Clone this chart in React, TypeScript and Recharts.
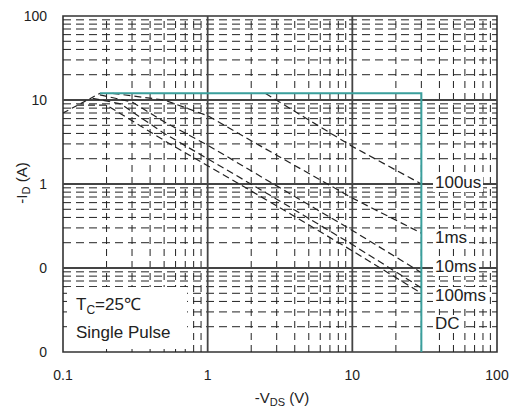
import React from 'react';
import {
  LineChart,
  Line,
  XAxis,
  YAxis,
  ReferenceLine,
  ReferenceArea,
  Label,
} from 'recharts';

// -VDS (V) axis
const xTicks = [0.1, 1, 10, 100];
const xMinor = [
  0.2, 0.3, 0.4, 0.5, 0.6, 0.7, 0.8, 0.9,
  2, 3, 4, 5, 6, 7, 8, 9,
  20, 30, 40, 50, 60, 70, 80, 90,
];

// -ID (A) axis (the datasheet prints 0.1 and 0.01 as "0")
const yTicks = [0.01, 0.1, 1, 10, 100];
const yTickText = ['0', '0', '1', '10', '100'];
const yMinor = [
  0.02, 0.03, 0.04, 0.05, 0.06, 0.07, 0.08, 0.09,
  0.2, 0.3, 0.4, 0.5, 0.6, 0.7, 0.8, 0.9,
  2, 3, 4, 5, 6, 7, 8, 9,
  20, 30, 40, 50, 60, 70, 80, 90,
];

// RDS(on) limit
const rdsLimit = [
  { v: 0.1, i: 7 },
  { v: 0.18, i: 12 },
];

// ID max / VDS max box
const maxBox = [
  { v: 0.18, i: 12 },
  { v: 30, i: 12 },
  { v: 30, i: 0.01 },
];

const pulse100us = [
  { v: 2.5, i: 12 },
  { v: 10, i: 2.8 },
  { v: 30, i: 1.0 },
];

const pulse1ms = [
  { v: 0.22, i: 12 },
  { v: 0.5, i: 10 },
  { v: 1, i: 6.5 },
  { v: 3, i: 2.2 },
  { v: 10, i: 0.68 },
  { v: 30, i: 0.26 },
];

const pulse10ms = [
  { v: 0.18, i: 11.5 },
  { v: 0.3, i: 9.5 },
  { v: 0.5, i: 5.5 },
  { v: 1, i: 2.9 },
  { v: 3, i: 0.95 },
  { v: 10, i: 0.28 },
  { v: 30, i: 0.088 },
];

const pulse100ms = [
  { v: 0.16, i: 10.5 },
  { v: 0.25, i: 9 },
  { v: 0.5, i: 4 },
  { v: 1, i: 2.0 },
  { v: 3, i: 0.66 },
  { v: 10, i: 0.19 },
  { v: 30, i: 0.058 },
];

const pulseDC = [
  { v: 0.125, i: 8.7 },
  { v: 0.2, i: 8.7 },
  { v: 0.5, i: 3.3 },
  { v: 1, i: 1.65 },
  { v: 3, i: 0.55 },
  { v: 10, i: 0.16 },
  { v: 30, i: 0.05 },
];

const curveLabels = [
  { text: '100us', top: 174 },
  { text: '1ms', top: 229 },
  { text: '10ms', top: 258 },
  { text: '100ms', top: 287 },
  { text: 'DC', top: 315 },
];

const FONT = '"Liberation Sans", Arial, sans-serif';
const INK = '#222';

const tagStyle: React.CSSProperties = {
  position: 'absolute',
  left: 433,
  background: '#fff',
  fontFamily: FONT,
  fontSize: 17,
  lineHeight: '18px',
  color: INK,
  padding: '0 2px',
};

export default function App() {
  const curves = [pulse100us, pulse1ms, pulse10ms, pulse100ms, pulseDC];
  return (
    <div style={{ position: 'absolute', left: 0, top: 0, width: 515, height: 410, background: '#fff' }}>
      <LineChart
        width={515}
        height={410}
        margin={{ top: 16, right: 18, bottom: 28, left: 0 }}
        style={{ fontFamily: FONT }}
      >
        <XAxis
          type="number"
          dataKey="v"
          scale="log"
          domain={[0.1, 100]}
          ticks={xTicks}
          allowDataOverflow
          axisLine={false}
          tickLine={false}
          tickSize={0}
          tickMargin={18}
          height={30}
          tick={{ fill: INK, fontSize: 14 }}
        >
          <Label
            content={({ viewBox }: any) => (
              <text x={viewBox.x + viewBox.width / 2 + 2} y={403} textAnchor="middle" fill={INK} fontSize={15}>
                -V
                <tspan fontSize={11} dy={3}>DS</tspan>
                <tspan dy={-3}> (V)</tspan>
              </text>
            )}
          />
        </XAxis>
        <YAxis
          type="number"
          dataKey="i"
          scale="log"
          domain={[0.01, 100]}
          ticks={yTicks}
          allowDataOverflow
          axisLine={false}
          tickLine={false}
          tickSize={0}
          tickMargin={16}
          width={63}
          tick={{ fill: INK, fontSize: 14 }}
          tickFormatter={(val: number) => yTickText[yTicks.indexOf(val)] ?? ''}
        >
          <Label
            content={() => (
              <text x={0} y={0} transform="translate(27,183) rotate(-90)" textAnchor="middle" fill={INK} fontSize={15}>
                -I
                <tspan fontSize={11} dy={3}>D</tspan>
                <tspan dy={-3}> (A)</tspan>
              </text>
            )}
          />
        </YAxis>

        {xMinor.map((x) => (
          <ReferenceLine key={'xm' + x} x={x} stroke={INK} strokeWidth={1} strokeDasharray="7 5" />
        ))}
        {yMinor.map((y) => (
          <ReferenceLine key={'ym' + y} y={y} stroke={INK} strokeWidth={1} strokeDasharray="8 5" />
        ))}
        {xTicks.slice(1, -1).map((x) => (
          <ReferenceLine key={'xM' + x} x={x} stroke="#444" strokeWidth={1.8} />
        ))}
        {yTicks.slice(1, -1).map((y) => (
          <ReferenceLine key={'yM' + y} y={y} stroke="#444" strokeWidth={1.8} />
        ))}
        <ReferenceArea x1={0.1} x2={100} y1={0.01} y2={100} fill="none" stroke="#333" strokeWidth={1.6} />

        <Line
          data={rdsLimit}
          dataKey="i"
          stroke={INK}
          strokeWidth={1.2}
          strokeDasharray="6 4"
          dot={false}
          isAnimationActive={false}
        />
        {curves.map((c, k) => (
          <Line
            key={k}
            data={c}
            dataKey="i"
            stroke={INK}
            strokeWidth={1.2}
            strokeDasharray="7 4"
            dot={false}
            isAnimationActive={false}
          />
        ))}
        <Line
          data={maxBox}
          dataKey="i"
          stroke="#3a9f9c"
          strokeWidth={2}
          dot={false}
          isAnimationActive={false}
        />
      </LineChart>

      {curveLabels.map((l) => (
        <div key={l.text} style={{ ...tagStyle, top: l.top }}>
          {l.text}
        </div>
      ))}

      <div
        style={{
          position: 'absolute',
          left: 67,
          top: 287,
          width: 120,
          height: 62,
          background: '#fff',
          fontFamily: FONT,
          fontSize: 17,
          color: INK,
        }}
      >
        <div style={{ position: 'absolute', left: 9, top: 9, lineHeight: '18px', whiteSpace: 'nowrap' }}>
          T<span style={{ fontSize: 12, verticalAlign: -4 }}>C</span>=25℃
        </div>
        <div style={{ position: 'absolute', left: 9, top: 37, lineHeight: '18px', whiteSpace: 'nowrap' }}>
          Single Pulse
        </div>
      </div>
    </div>
  );
}
